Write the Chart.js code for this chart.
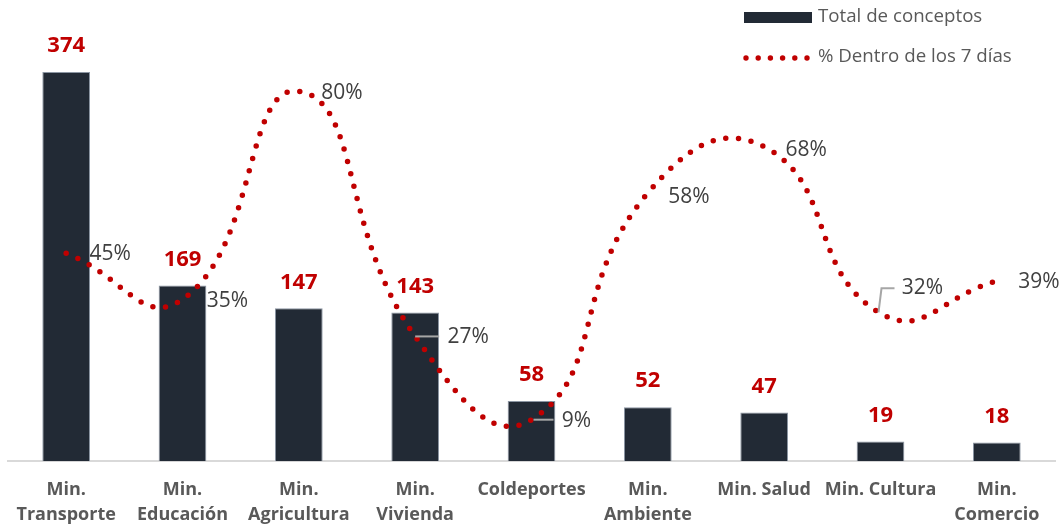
<!DOCTYPE html>
<html><head><meta charset="utf-8">
<script src="https://cdn.jsdelivr.net/npm/chart.js@4.4.1/dist/chart.umd.min.js"></script>
<style>html,body{margin:0;padding:0;background:#fff}#wrap{width:1064px;height:525px;position:relative}</style>
</head><body><div id="wrap"><canvas id="c"></canvas></div>
<script>
const categories = [["Min.","Transporte"],["Min.","Educación"],["Min.","Agricultura"],["Min.","Vivienda"],"Coldeportes",["Min.","Ambiente"],"Min. Salud","Min. Cultura",["Min.","Comercio"]];
const totalConceptos = [374,169,147,143,58,52,47,19,18];
const pctDentro7Dias = [45,35,80,27,9,58,68,32,39];
const seriesNames = ["Total de conceptos","% Dentro de los 7 días"];

const BAR = '#222a35', RED = '#c00000', GRAY = '#595959', DARK = '#404040', LEAD = '#a6a6a6';
const FONT = "'Open Sans', sans-serif";

// label placement for the percentage labels (style only)
const pctLabelPos = [
  {dx:44, dy:1}, {dx:45, dy:2}, {dx:43, dy:2}, {dx:53, dy:1, lead:[[0,0],[24,0]]},
  {dx:45, dy:1, lead:[[2,0],[22,0]]}, {dx:41, dy:4}, {dx:42, dy:3},
  {dx:42, dy:-25, lead:[[-2,-1],[1,-25],[14,-25]]}, {dx:42, dy:1}
];

const labelPlugin = {
  id:'labels',
  afterDatasetsDraw(chart){
    const ctx = chart.ctx;
    ctx.save();
    const m0 = chart.getDatasetMeta(0);
    ctx.font = "bold 22px " + FONT;
    ctx.fillStyle = RED; ctx.textAlign = 'center'; ctx.textBaseline = 'middle';
    m0.data.forEach((el,i)=>{ ctx.fillText(String(totalConceptos[i]), el.x, el.y - 26); });
    const m1 = chart.getDatasetMeta(1);
    ctx.font = "21px " + FONT;
    m1.data.forEach((el,i)=>{
      const p = pctLabelPos[i];
      if (p.lead){
        ctx.strokeStyle = LEAD; ctx.lineWidth = 2;
        ctx.beginPath();
        p.lead.forEach((q,k)=>{ const X = el.x+q[0], Y = el.y+q[1]; k? ctx.lineTo(X,Y) : ctx.moveTo(X,Y); });
        ctx.stroke();
      }
      ctx.fillStyle = DARK;
      ctx.fillText(pctDentro7Dias[i] + '%', el.x + p.dx, el.y + p.dy);
    });
    ctx.restore();
  },
  afterDraw(chart){
    const ctx = chart.ctx;
    ctx.save();
    ctx.fillStyle = BAR;
    ctx.fillRect(744, 12, 68, 11);
    ctx.fillStyle = RED;
    for (let i=0;i<6;i++){ ctx.beginPath(); ctx.arc(746 + i*12.2, 58, 2.7, 0, Math.PI*2); ctx.fill(); }
    ctx.fillStyle = GRAY; ctx.font = "18.7px " + FONT; ctx.textAlign='left'; ctx.textBaseline='middle';
    ctx.fillText(seriesNames[0], 818, 17);
    ctx.fillText(seriesNames[1], 818, 57);
    ctx.restore();
  }
};

new Chart(document.getElementById('c'), {
  data:{
    labels: categories,
    datasets:[
      {type:'bar', label:seriesNames[0], data:totalConceptos, backgroundColor:BAR, borderColor:'#8c96a3', borderWidth:1,
       categoryPercentage:1, barPercentage:0.41, yAxisID:'y', order:2},
      {type:'line', label:seriesNames[1], data:pctDentro7Dias, borderColor:RED, borderWidth:5.5, borderDash:[0,12.8],
       borderCapStyle:'round', pointRadius:0, tension:0.5, fill:false, yAxisID:'y1', order:1}
    ]
  },
  options:{
    responsive:true, maintainAspectRatio:false, animation:false,
    layout:{padding:{left:8, right:9, top:45, bottom:-18}},
    plugins:{legend:{display:false}, tooltip:{enabled:false}},
    scales:{
      x:{grid:{display:false, drawTicks:false}, border:{display:true, color:'#d9d9d9', width:2},
         ticks:{color:GRAY, font:{family:FONT, size:18, weight:'bold', lineHeight:1.38}, padding:16, maxRotation:0, autoSkip:false}},
      y:{display:false, min:0, max:400},
      y1:{display:false, min:0, max:90, position:'right'}
    }
  },
  plugins:[labelPlugin]
});
</script>
</body></html>
